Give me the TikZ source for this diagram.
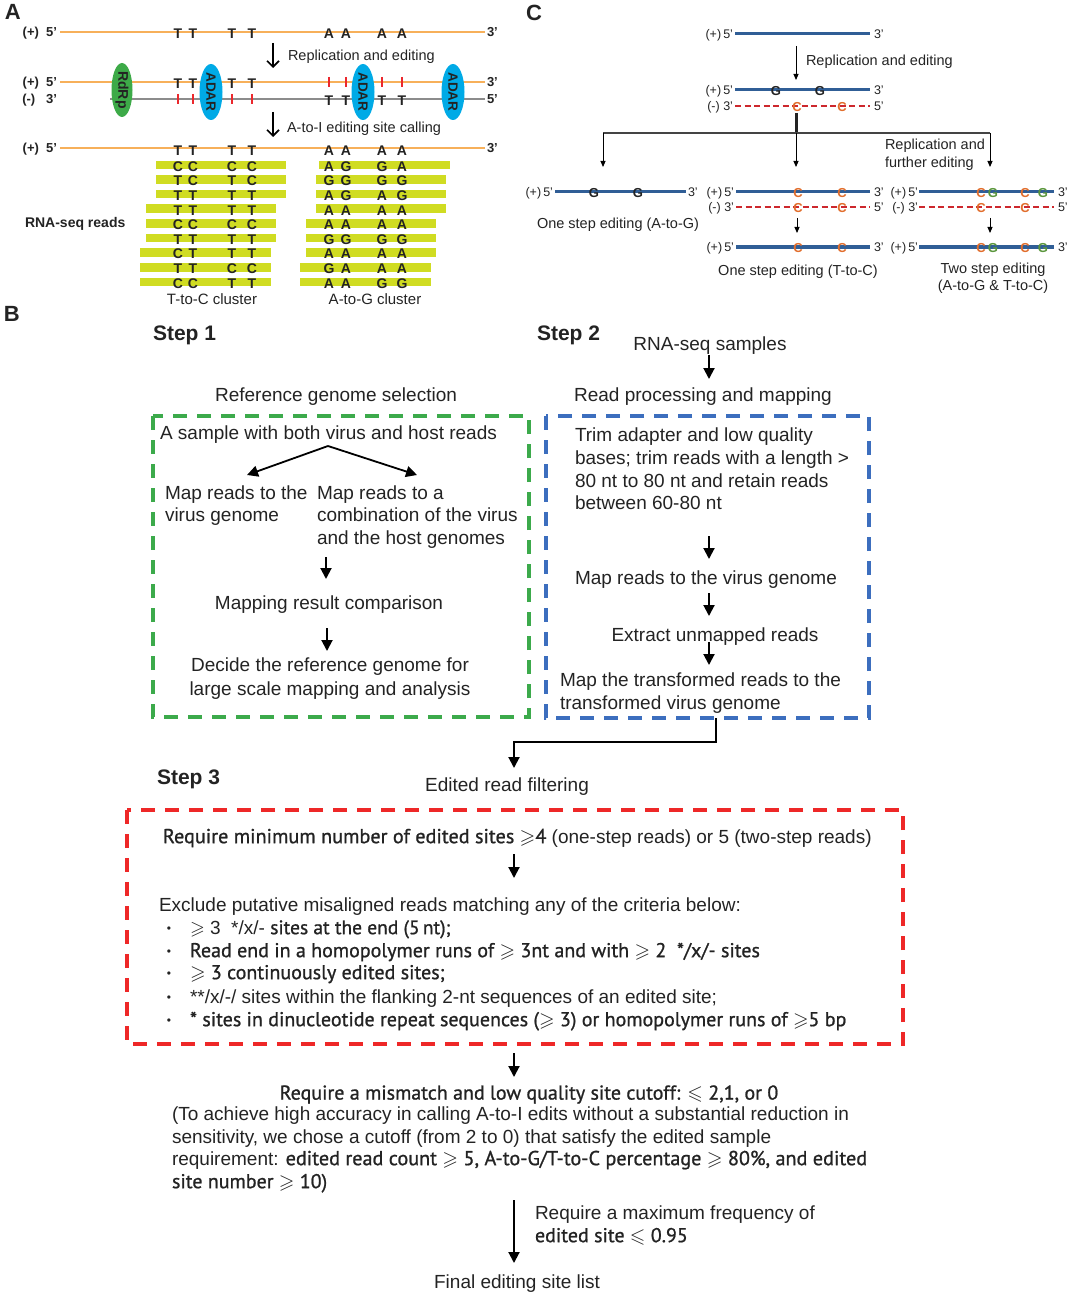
\documentclass[tikz,border=0pt]{standalone}
\usepackage{fontspec}
\usepackage{amssymb}
\setmainfont{Liberation Sans}
\newfontfamily\cnd[FakeBold=1]{PT Sans}
\usetikzlibrary{arrows.meta,shapes.geometric}
\newcommand\fsz[1]{\fontsize{#1}{#1}\selectfont}
\definecolor{orl}{RGB}{247,176,90}
\definecolor{gry}{RGB}{140,140,140}
\definecolor{rdp}{RGB}{61,170,72}
\definecolor{adr}{RGB}{0,170,230}
\definecolor{tickc}{RGB}{235,40,45}
\definecolor{readbar}{RGB}{208,220,34}
\definecolor{cblue}{RGB}{48,94,150}
\definecolor{cred}{RGB}{205,40,45}
\definecolor{corg}{RGB}{225,110,45}
\definecolor{cgrn}{RGB}{90,150,60}
\definecolor{bgrn}{RGB}{60,170,75}
\definecolor{bblu}{RGB}{60,110,190}
\definecolor{bred}{RGB}{238,40,40}
\definecolor{txt}{RGB}{35,35,35}
\begin{document}
\begin{tikzpicture}[x=1pt,y=-1pt,
  every node/.style={inner sep=0pt,outer sep=0pt,text=txt},
  panel/.style={font=\fsz{22}\bfseries,yshift=-3.5pt},
  tA/.style={font=\fsz{14}\bfseries,yshift=-1.5pt},
  lblA/.style={font=\fsz{13}\bfseries,yshift=-2pt},
  capA/.style={font=\fsz{14.5},yshift=-2pt},
  tC/.style={font=\fsz{12.5},yshift=-2pt},
  capC/.style={font=\fsz{14.5},yshift=-2pt},
  lettC/.style={font=\fsz{13}\bfseries,yshift=-1.5pt},
  tB/.style={font=\fsz{19},yshift=-3.5pt},
  tS/.style={font=\fsz{21}\bfseries,yshift=-3.5pt},
  tK/.style={font=\fsz{20}\cnd,yshift=-3.5pt},
  strand/.style={line width=2pt},
  cstrand/.style={cblue,line width=3pt},
  cdash/.style={cred,line width=2.5pt,dash pattern=on 6pt off 3.5pt},
  tickmark/.style={tickc,line width=2pt},
  arrA/.style={-{Straight Barb[length=6pt,width=12pt]},line width=1.6pt},
  carr/.style={-{Triangle[length=6pt,width=5pt]},line width=0.9pt},
  barr/.style={-{Triangle[length=11pt,width=11pt]},line width=2pt},
  dbox/.style={line width=3.5pt,dash pattern=on 14pt off 10pt}
]
\useasboundingbox (0,0) rectangle (1080,1297);

% ================= Panel A =================
\node[panel,anchor=mid west] (pA) at (5,13) {A};
% row 1
\draw[orl,strand] (60,32) -- (485,32);
\node[lblA,anchor=mid east] (a1l) at (57,32) {(+)\ \ 5’};
\node[lblA,anchor=mid west] (a1r) at (487,32) {3’};
\foreach \x/\l [count=\k] in {178/T,193/T,232/T,252/T,329/A,346/A,382/A,402/A}
  \node[tA] (ra\k) at (\x,32) {\l};
\coordinate (a1top) at (273,43); \coordinate (a1bot) at (273,68);
\draw[arrA] (a1top) -- (a1bot);
\node[capA,anchor=mid west] (a1c) at (288,56) {Replication and editing};
% rows 2 and 3
\draw[orl,strand] (60,82) -- (485,82);
\draw[gry,strand] (110,99) -- (485,99);
\node[lblA,anchor=mid east] (a2l) at (57,82) {(+)\ \ 5’};
\node[lblA,anchor=mid west] (a2r) at (487,82) {3’};
\node[lblA,anchor=mid east] (a3l) at (57,99) {(-)\ \ \ 3’};
\node[lblA,anchor=mid west] (a3r) at (487,99) {5’};
\foreach \x in {329,346,382,402} \draw[tickmark] (\x,77) -- (\x,87);
\foreach \x in {178,193,232,252} \draw[tickmark] (\x,94) -- (\x,104);
\foreach \x [count=\k] in {178,193,232,252} \node[tA] (rb\k) at (\x,82) {T};
\foreach \x [count=\k] in {329,346,382,402} \node[tA] (rc\k) at (\x,99) {T};
\fill[rdp] (122,90) ellipse [x radius=10.5,y radius=27];
\node[font=\fsz{14}\bfseries,rotate=-90] (rdrp) at (122,90) {RdRp};
\foreach \x [count=\k] in {211,363,453}{
  \fill[adr] (\x,92) ellipse [x radius=11.5,y radius=28];
  \node[font=\fsz{13.5}\bfseries,rotate=-90] (adar\k) at (\x,92) {ADAR};
}
\coordinate (a2top) at (273,112); \coordinate (a2bot) at (273,137);
\draw[arrA] (a2top) -- (a2bot);
\node[capA,anchor=mid west] (a2c) at (287,128) {A-to-I editing site calling};
% row 4
\draw[orl,strand] (60,148) -- (485,148);
\node[lblA,anchor=mid east] (a4l) at (57,148) {(+)\ \ 5’};
\node[lblA,anchor=mid west] (a4r) at (487,148) {3’};
\foreach \x/\l [count=\k] in {178/T,193/T,232/T,252/T,329/A,346/A,382/A,402/A}
  \node[tA] (rd\k) at (\x,149) {\l};
% reads
\foreach \yy/\la/\lb/\pa/\pb/\pc/\pd/\ra/\rb/\qa/\qb/\qc/\qd [count=\k] in {
  165/156/286/C/C/C/C/319/450/A/G/G/A,
  179.6/156/286/T/C/T/C/316/446/G/G/G/G,
  194.2/156/286/T/T/T/T/316/446/A/G/A/G,
  208.8/146/276/T/T/T/T/316/446/A/A/A/A,
  223.4/146/276/C/C/C/C/306/436/A/A/A/A,
  238/146/276/T/T/T/T/306/436/G/G/G/G,
  252.6/140/271/C/T/T/T/306/436/A/A/A/A,
  267.2/140/271/T/T/C/C/300/431/G/A/A/A,
  281.8/140/271/C/C/T/T/300/431/A/A/G/G}{
  \fill[readbar] (\la,\yy-4.3) rectangle (\lb,\yy+4.3);
  \fill[readbar] (\ra,\yy-4.3) rectangle (\rb,\yy+4.3);
  \node[tA] (ka\k) at (178,\yy) {\pa};
  \node[tA] (kb\k) at (193,\yy) {\pb};
  \node[tA] (kc\k) at (232,\yy) {\pc};
  \node[tA] (kd\k) at (252,\yy) {\pd};
  \node[tA] (ke\k) at (329,\yy) {\qa};
  \node[tA] (kf\k) at (346,\yy) {\qb};
  \node[tA] (kg\k) at (382,\yy) {\qc};
  \node[tA] (kh\k) at (402,\yy) {\qd};
}
\node[font=\fsz{14}\bfseries,anchor=mid west,yshift=-2pt] (rnaseq) at (25,223) {RNA-seq reads};
\node[font=\fsz{15},yshift=-2pt] (tcc) at (212,297) {T-to-C cluster};
\node[font=\fsz{15},yshift=-2pt] (agc) at (375,297) {A-to-G cluster};

% ================= Panel C =================
\node[panel,anchor=mid west] (pC) at (526,14) {C};
% line 1
\draw[cstrand] (735,34) -- (870,34);
\node[tC,anchor=mid east] (c1l) at (733,34) {(+)\,5’};
\node[tC,anchor=mid west] (c1r) at (874,34) {3’};
\coordinate (c1a) at (796,46); \coordinate (c1b) at (796,80);
\draw[carr] (c1a) -- (c1b);
\node[capC,anchor=mid west] (c1c) at (806,61) {Replication and editing};
% line 2/3
\draw[cstrand] (735,90) -- (870,90);
\node[tC,anchor=mid east] (c2l) at (733,90) {(+)\,5’};
\node[tC,anchor=mid west] (c2r) at (874,90) {3’};
\node[lettC] (cg1) at (776,90) {G};
\node[lettC] (cg2) at (820,90) {G};
\draw[cdash] (735,106) -- (870,106);
\node[tC,anchor=mid east] (c3l) at (733,106) {(-) 3’};
\node[tC,anchor=mid west] (c3r) at (874,106) {5’};
\node[lettC,text=corg] (cc1) at (797,106) {C};
\node[lettC,text=corg] (cc2) at (842,106) {C};
% branching
\coordinate (cb0) at (796,113); \coordinate (cb1) at (796,133);
\draw[line width=3pt,txt] (cb0) -- (cb1);
\coordinate (cbl) at (603,133); \coordinate (cbr) at (990,133);
\draw[line width=1.1pt,txt!85] (cbl) -- (cbr);
\coordinate (cel) at (603,167); \coordinate (cem) at (796,167); \coordinate (cer) at (990,167);
\draw[carr] (cbl) -- (cel);
\draw[carr] (cb1) -- (cem);
\draw[carr] (cbr) -- (cer);
\node[capC,anchor=mid west] (rf1) at (885,145) {Replication and};
\node[capC,anchor=mid west] (rf2) at (885,163) {further editing};
% row 2 left
\draw[cstrand] (555,192) -- (686,192);
\node[tC,anchor=mid east] (d1l) at (553,192) {(+)\,5’};
\node[tC,anchor=mid west] (d1r) at (688,192) {3’};
\node[lettC] (dg1) at (594,192) {G};
\node[lettC] (dg2) at (638,192) {G};
\node[capC] (ose1) at (618,223) {One step editing (A-to-G)};
% row 2 middle
\draw[cstrand] (736,192) -- (870,192);
\node[tC,anchor=mid east] (d2l) at (734,192) {(+)\,5’};
\node[tC,anchor=mid west] (d2r) at (874,192) {3’};
\node[lettC,text=corg] (dc1) at (798,192) {C};
\node[lettC,text=corg] (dc2) at (842,192) {C};
\draw[cdash] (736,207) -- (870,207);
\node[tC,anchor=mid east] (d3l) at (734,207) {(-) 3’};
\node[tC,anchor=mid west] (d3r) at (874,207) {5’};
\node[lettC,text=corg] (dc3) at (798,207) {C};
\node[lettC,text=corg] (dc4) at (842,207) {C};
% row 2 right
\draw[cstrand] (919,192) -- (1054,192);
\node[tC,anchor=mid east] (d4l) at (918,192) {(+)\,5’};
\node[tC,anchor=mid west] (d4r) at (1058,192) {3’};
\node[lettC,text=corg] (dc5) at (981,192) {C};
\node[lettC,text=cgrn] (dg3) at (993,192) {G};
\node[lettC,text=corg] (dc6) at (1025,192) {C};
\node[lettC,text=cgrn] (dg4) at (1043,192) {G};
\draw[cdash] (919,207) -- (1054,207);
\node[tC,anchor=mid east] (d5l) at (918,207) {(-) 3’};
\node[tC,anchor=mid west] (d5r) at (1058,207) {5’};
\node[lettC,text=corg] (dc7) at (981,207) {C};
\node[lettC,text=corg] (dc8) at (1025,207) {C};
% down arrows
\coordinate (dm0) at (797,218); \coordinate (dm1) at (797,233);
\coordinate (dr0) at (990,218); \coordinate (dr1) at (990,233);
\draw[carr] (dm0) -- (dm1);
\draw[carr] (dr0) -- (dr1);
% bottom row
\draw[cstrand] (736,247) -- (870,247);
\node[tC,anchor=mid east] (e1l) at (734,247) {(+)\,5’};
\node[tC,anchor=mid west] (e1r) at (874,247) {3’};
\node[lettC,text=corg] (ec1) at (798,247) {C};
\node[lettC,text=corg] (ec2) at (842,247) {C};
\draw[cstrand] (919,247) -- (1054,247);
\node[tC,anchor=mid east] (e2l) at (918,247) {(+)\,5’};
\node[tC,anchor=mid west] (e2r) at (1058,247) {3’};
\node[lettC,text=corg] (ec3) at (981,247) {C};
\node[lettC,text=cgrn] (eg1) at (993,247) {G};
\node[lettC,text=corg] (ec4) at (1025,247) {C};
\node[lettC,text=cgrn] (eg2) at (1043,247) {G};
\node[capC] (ose2) at (798,270) {One step editing (T-to-C)};
\node[capC] (tse1) at (993,268) {Two step editing};
\node[capC] (tse2) at (993,285) {(A-to-G \& T-to-C)};

% ================= Panel B =================
\node[panel,anchor=mid west] (pB) at (4,315) {B};
\node[tS,anchor=mid west] (st1) at (153,334) {Step 1};
\node[tS,anchor=mid west] (st2) at (537,334) {Step 2};
\node[tS,anchor=mid west] (st3) at (157,778) {Step 3};
% Step 1
\node[tB] (refsel) at (336,393) {Reference genome selection};
\draw[bgrn,dbox] (153,416) rectangle (529,717);
\node[tB,anchor=mid west] (samp) at (160,433) {A sample with both virus and host reads};
\coordinate (sp0) at (328,446);
\coordinate (spl) at (247,475); \coordinate (spr) at (417,475);
\draw[barr,line width=1.8pt] (sp0) -- (spl);
\draw[barr,line width=1.8pt] (sp0) -- (spr);
\node[tB,anchor=mid west] (mv1) at (165,493) {Map reads to the};
\node[tB,anchor=mid west] (mv2) at (165,515) {virus genome};
\node[tB,anchor=mid west] (mc1) at (317,493) {Map reads to a};
\node[tB,anchor=mid west] (mc2) at (317,515) {combination of the virus};
\node[tB,anchor=mid west] (mc3) at (317,538) {and the host genomes};
\coordinate (s1a0) at (326,557); \coordinate (s1a1) at (326,579);
\draw[barr] (s1a0) -- (s1a1);
\node[tB] (mrc) at (329,601) {Mapping result comparison};
\coordinate (s1b0) at (327,628); \coordinate (s1b1) at (327,651);
\draw[barr] (s1b0) -- (s1b1);
\node[tB] (dec1) at (330,663) {Decide the reference genome for};
\node[tB] (dec2) at (330,687) {large scale mapping and analysis};
% Step 2
\node[tB] (rnas) at (710,342) {RNA-seq samples};
\coordinate (s2a0) at (709,355); \coordinate (s2a1) at (709,379);
\draw[barr] (s2a0) -- (s2a1);
\node[tB] (rpm) at (703,393) {Read processing and mapping};
\draw[bblu,dbox] (546,416) rectangle (869,718);
\node[tB,anchor=mid west] (tr1) at (575,435) {Trim adapter and low quality};
\node[tB,anchor=mid west] (tr2) at (575,458) {bases; trim reads with a length >};
\node[tB,anchor=mid west] (tr3) at (575,481) {80 nt to 80 nt and retain reads};
\node[tB,anchor=mid west] (tr4) at (575,503) {between 60-80 nt};
\coordinate (s2b0) at (709,536); \coordinate (s2b1) at (709,559);
\draw[barr] (s2b0) -- (s2b1);
\node[tB,anchor=mid west] (mvg) at (575,578) {Map reads to the virus genome};
\coordinate (s2c0) at (709,593); \coordinate (s2c1) at (709,616);
\draw[barr] (s2c0) -- (s2c1);
\node[tB] (eur) at (715,633) {Extract unmapped reads};
\coordinate (s2d0) at (709,642); \coordinate (s2d1) at (709,665);
\draw[barr] (s2d0) -- (s2d1);
\node[tB,anchor=mid west] (mt1) at (560,680) {Map the transformed reads to the};
\node[tB,anchor=mid west] (mt2) at (560,703) {transformed virus genome};
% connector to step 3
\coordinate (s2out) at (716,718); \coordinate (elb) at (716,742);
\coordinate (filtin) at (514,768);
\draw[barr] (s2out) -- (elb) -| (filtin);
\node[tB] (erf) at (507,783) {Edited read filtering};
% Step 3
\draw[bred,dbox] (127,810) rectangle (903,1044);
\node[tB,anchor=mid west] (req1) at (163,837) {{\cnd\fsz{20.2}Require minimum number of edited sites $\geqslant$4} (one-step reads) or 5 (two-step reads)};
\coordinate (s3a0) at (514,854); \coordinate (s3a1) at (514,878);
\draw[barr] (s3a0) -- (s3a1);
\node[tB,anchor=mid west] (excl) at (159,905) {Exclude putative misaligned reads matching any of the criteria below:};
\foreach \yy [count=\k] in {928,951,973,997,1020}
  \node[font=\fsz{12},yshift=-2pt] (bul\k) at (169,\yy) {\textbullet};
\node[tB,anchor=mid west] (b1) at (190,928) {$\geqslant$ 3\ \ */x/- {\cnd\fsz{19.5}sites at the end (5\,nt);}};
\node[tK,anchor=mid west] (b2) at (190,951) {Read end in a homopolymer runs of $\geqslant$ 3nt and with $\geqslant$ 2\ \ */x/- sites};
\node[tK,anchor=mid west] (b3) at (190,973) {$\geqslant$ 3 continuously edited sites;};
\node[tB,anchor=mid west] (b4) at (190,997) {**/x/-/ sites within the flanking 2-nt sequences of an edited site;};
\node[tK,anchor=mid west] (b5) at (190,1020) {* sites in dinucleotide repeat sequences ($\geqslant$ 3) or homopolymer runs of $\geqslant$5 bp};
\coordinate (s3b0) at (514,1053); \coordinate (s3b1) at (514,1077);
\draw[barr] (s3b0) -- (s3b1);
\node[tK] (mm) at (529,1091) {Require a mismatch and low quality site cutoff: $\leqslant$ 2,1, or 0};
\node[tB,anchor=mid west] (p1) at (172,1114) {(To achieve high accuracy in calling A-to-I edits without a substantial reduction in};
\node[tB,anchor=mid west] (p2) at (172,1137) {sensitivity, we chose a cutoff (from 2 to 0) that satisfy the edited sample};
\node[tB,anchor=mid west] (p3) at (172,1159) {requirement: {\cnd\fsz{20.2}edited read count $\geqslant$ 5, A-to-G/T-to-C percentage $\geqslant$ 80\%, and edited}};
\node[tK,anchor=mid west] (p4) at (172,1182) {site number $\geqslant$ 10)};
\coordinate (s3c0) at (514,1200); \coordinate (s3c1) at (514,1263);
\draw[barr] (s3c0) -- (s3c1);
\node[tB,anchor=mid west] (mf1) at (535,1213) {Require a maximum frequency of};
\node[tK,anchor=mid west] (mf2) at (535,1236) {edited site $\leqslant$ 0.95};
\node[tB] (final) at (517,1280) {Final editing site list};
\end{tikzpicture}
\end{document}
